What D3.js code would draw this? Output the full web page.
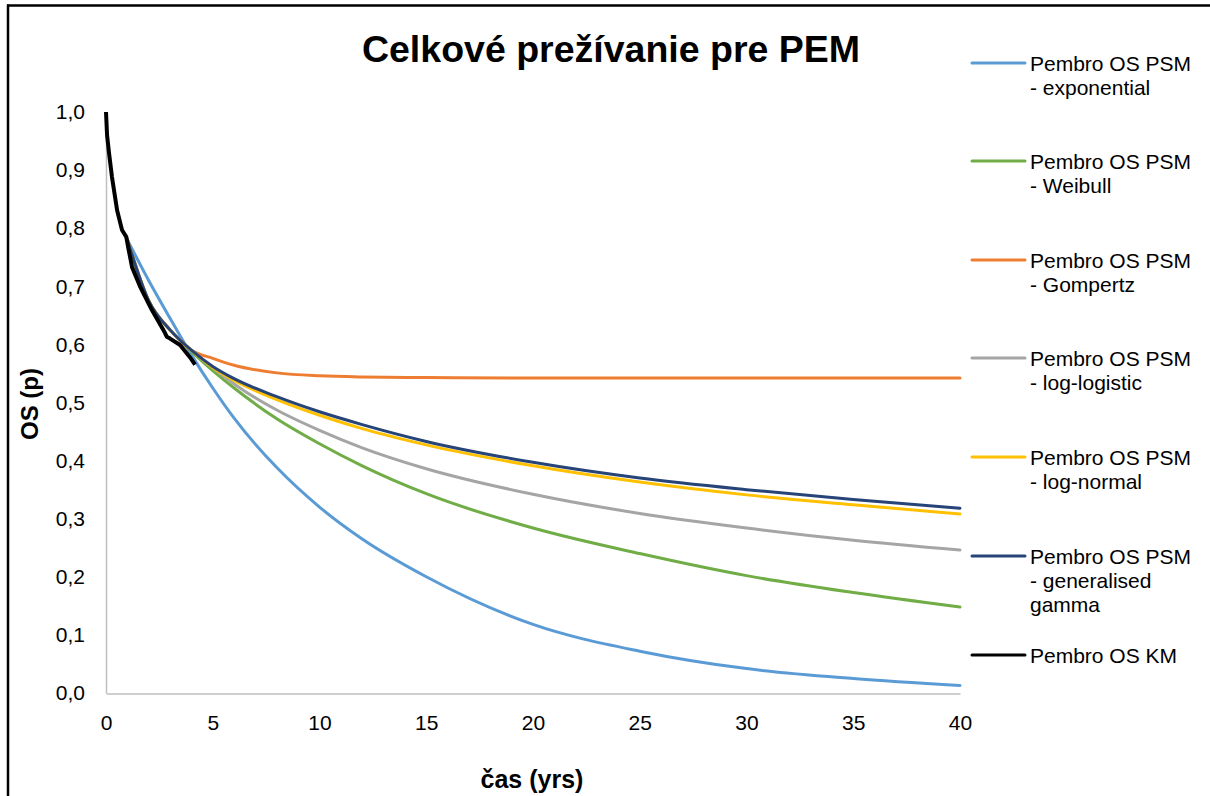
<!DOCTYPE html>
<html>
<head>
<meta charset="utf-8">
<script src="https://cdn.jsdelivr.net/npm/d3@7"></script>
<style>
  body { margin: 0; background: #fff; }
  svg { display: block; font-family: "Liberation Sans", Arial, sans-serif; }
</style>
</head>
<body>
<svg width="1210" height="796"></svg>
<script>
// time grid for the fitted curves (years)
const psmTimes = [1, 2, 3, 4, 5, 6, 8, 10, 12, 15, 20, 25, 30, 35, 40];

const exponential = [0.78, 0.71, 0.645, 0.582, 0.525, 0.473, 0.388, 0.32, 0.265, 0.200, 0.118, 0.072, 0.042, 0.025, 0.013];
const weibull     = [0.78, 0.675, 0.625, 0.588, 0.555, 0.525, 0.472, 0.429, 0.391, 0.343, 0.284, 0.24, 0.202, 0.173, 0.148];
const gompertz    = [0.78, 0.675, 0.625, 0.59, 0.576, 0.564, 0.551, 0.546, 0.544, 0.543, 0.542, 0.542, 0.542, 0.542, 0.542];
const logLogistic = [0.78, 0.675, 0.625, 0.59, 0.56, 0.532, 0.487, 0.452, 0.422, 0.386, 0.342, 0.309, 0.284, 0.263, 0.246];
const logNormal   = [0.78, 0.675, 0.625, 0.59, 0.56, 0.538, 0.505, 0.478, 0.455, 0.427, 0.391, 0.363, 0.341, 0.324, 0.308];
const genGamma    = [0.78, 0.675, 0.625, 0.59, 0.562, 0.541, 0.51, 0.484, 0.462, 0.433, 0.397, 0.370, 0.350, 0.333, 0.318];

// Kaplan-Meier
const kmTimes = [0, 0.05, 0.14, 0.28, 0.52, 0.75, 0.95, 1.05, 1.22, 1.59, 2.15, 2.76, 2.85, 3.0, 3.47, 3.93, 4.17];
const kmValues = [1.0, 0.96, 0.93, 0.888, 0.831, 0.797, 0.785, 0.765, 0.733, 0.70, 0.659, 0.62, 0.613, 0.61, 0.599, 0.578, 0.565];

const seriesNames = [
    "Pembro OS PSM - exponential",
    "Pembro OS PSM - Weibull",
    "Pembro OS PSM - Gompertz",
    "Pembro OS PSM - log-logistic",
    "Pembro OS PSM - log-normal",
    "Pembro OS PSM - generalised gamma",
    "Pembro OS KM"
];
const legendLines = [
    ["Pembro OS PSM", "- exponential"],
    ["Pembro OS PSM", "- Weibull"],
    ["Pembro OS PSM", "- Gompertz"],
    ["Pembro OS PSM", "- log-logistic"],
    ["Pembro OS PSM", "- log-normal"],
    ["Pembro OS PSM", "- generalised", "gamma"],
    ["Pembro OS KM"]
];
const colors = ["#5B9BD5", "#70AD47", "#ED7D31", "#A5A5A5", "#FFC000", "#264478", "#000000"];
const xTicks = [0, 5, 10, 15, 20, 25, 30, 35, 40];
const yTicks = [0, 0.1, 0.2, 0.3, 0.4, 0.5, 0.6, 0.7, 0.8, 0.9, 1.0];

const svg = d3.select("svg");

const x = d3.scaleLinear().domain([0, 40]).range([106, 960]);
const y = d3.scaleLinear().domain([0, 1]).range([693, 112]);

const skFormat = d3.formatLocale({ decimal: ",", thousands: " ", grouping: [3], currency: ["", " €"] }).format(".1f");

// outer frame (partially visible)
svg.append("line").attr("x1", 7).attr("x2", 1210).attr("y1", 5.5).attr("y2", 5.5)
    .attr("stroke", "#000").attr("stroke-width", 2.5);
svg.append("line").attr("x1", 8).attr("x2", 8).attr("y1", 4.5).attr("y2", 796)
    .attr("stroke", "#000").attr("stroke-width", 2.5);

// axes
const xAxis = svg.append("g")
    .attr("transform", `translate(0,${y(0) + 0.5})`)
    .call(d3.axisBottom(x).tickValues(xTicks).tickSize(0).tickPadding(22).tickFormat(d3.format("d")));
const yAxis = svg.append("g")
    .attr("transform", `translate(${x(0)},0)`)
    .call(d3.axisLeft(y).tickValues(yTicks).tickSize(0).tickPadding(21).tickFormat(skFormat));

[xAxis, yAxis].forEach(g => {
    g.select(".domain").attr("stroke", "#BFBFBF").attr("stroke-width", 1.5);
    g.selectAll("text").attr("font-size", 21).attr("fill", "#000")
        .attr("font-family", "Liberation Sans, Arial, sans-serif");
});

// curves
const psm = [exponential, weibull, gompertz, logLogistic, logNormal, genGamma];
const line = d3.line()
    .x(d => x(d[0]))
    .y(d => y(d[1]))
    .curve(d3.curveMonotoneX);

psm.forEach((vals, i) => {
    svg.append("path")
        .datum(psmTimes.map((t, j) => [t, vals[j]]))
        .attr("fill", "none")
        .attr("stroke", colors[i])
        .attr("stroke-width", 3)
        .attr("stroke-linecap", "round")
        .attr("d", line);
});

svg.append("path")
    .datum(kmTimes.map((t, j) => [t, kmValues[j]]))
    .attr("fill", "none")
    .attr("stroke", colors[6])
    .attr("stroke-width", 4)
    .attr("stroke-linejoin", "round")
    .attr("d", d3.line().x(d => x(d[0])).y(d => y(d[1])));

// title and axis titles
svg.append("text")
    .attr("x", 611).attr("y", 62)
    .attr("text-anchor", "middle")
    .attr("font-size", 37.5).attr("font-weight", "bold")
    .text("Celkové prežívanie pre PEM");

svg.append("text")
    .attr("x", 532).attr("y", 788)
    .attr("text-anchor", "middle")
    .attr("font-size", 25).attr("font-weight", "bold")
    .text("čas (yrs)");

svg.append("text")
    .attr("transform", "translate(38,404) rotate(-90)")
    .attr("text-anchor", "middle")
    .attr("font-size", 24).attr("font-weight", "bold")
    .text("OS (p)");

// legend
const legendY = [63, 161, 260, 358, 457, 556, 655];
const legend = svg.append("g");
seriesNames.forEach((name, i) => {
    const g = legend.append("g").attr("transform", `translate(0,${legendY[i]})`);
    g.append("line")
        .attr("x1", 972).attr("x2", 1025)
        .attr("stroke", colors[i]).attr("stroke-width", 3)
        .attr("stroke-linecap", "round");
    legendLines[i].forEach((txt, k) => {
        g.append("text")
            .attr("x", 1030).attr("y", 8 + k * 24)
            .attr("font-size", 21)
            .text(txt);
    });
});
</script>
</body>
</html>
